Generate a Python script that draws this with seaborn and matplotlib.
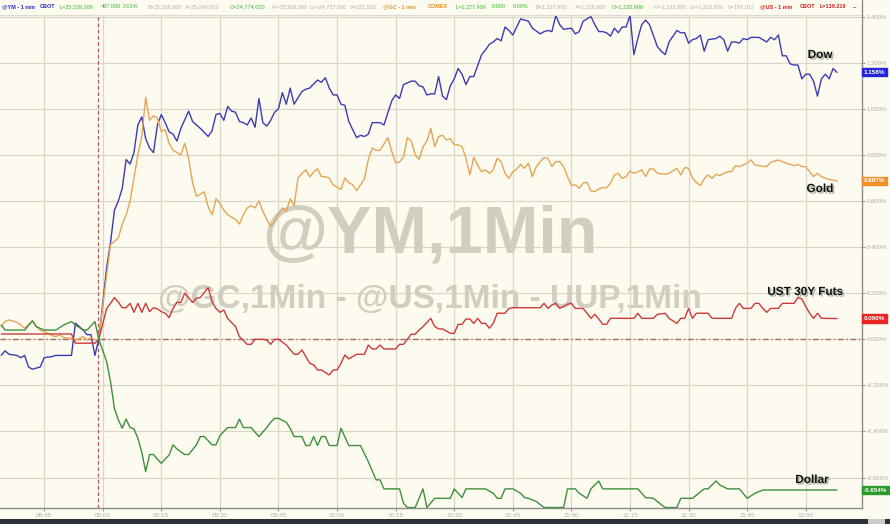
import numpy as np
import pandas as pd
import seaborn as sns
import matplotlib
matplotlib.use("Agg")
import matplotlib.pyplot as plt
import matplotlib.patheffects as pe
from matplotlib.patches import Rectangle
from matplotlib.ticker import FuncFormatter

# minutes relative to 09:00, values in % change since the 08:59 bar
dow_min = [-26, -25, -24, -22, -21, -20, -19, -18, -17, -16, -15, -13, -12, -10, -8, -7, -6, -5, -4, -3, -2, -1,
           1, 2, 3, 4, 5, 6, 7, 8, 9, 10, 11, 12, 13, 14, 15, 16, 17, 18, 19, 20, 22, 23, 25, 27, 28, 29, 30, 31,
           32, 33, 34, 35, 36, 37, 38, 39, 40, 41, 42, 43, 44, 45, 46, 47, 48, 49, 51, 52, 53, 55, 56, 57, 58, 59,
           60, 61, 62, 63, 65, 66, 67, 68, 69, 70, 71, 72, 74, 75, 76, 77, 79, 80, 81, 82, 83, 84, 85, 86, 87,
           88, 89, 90, 91, 92, 93, 94, 95, 97, 98, 99, 100, 101, 102, 103, 104, 105, 106, 107, 108, 109, 110,
           112, 113, 114, 115, 116, 117, 118, 120, 121, 122, 123, 124, 125, 126, 127, 128, 129, 130, 131, 132,
           133, 134, 135, 136, 137, 138, 139, 140, 142, 143, 144, 145, 147, 148, 149, 150, 151, 152, 153, 154,
           155, 157, 158, 159, 160, 161, 162, 163, 164, 165, 166, 168, 169, 170, 171, 172, 173, 174, 175, 176,
           177, 178, 179, 180, 181, 182, 183, 184, 185, 186, 187, 188]
dow_pct = [-0.07, -0.05, -0.065, -0.07, -0.08, -0.07, -0.12, -0.13, -0.125, -0.12, -0.08, -0.075, -0.07, -0.07, -0.07,
           0.07, 0.055, 0.04, 0.02, 0.02, -0.07, 0.0,
           0.31, 0.42, 0.56, 0.60, 0.655, 0.78, 0.76, 0.81, 0.93, 0.965, 0.87, 0.83, 0.81, 0.93, 0.975, 0.94, 0.90,
           0.89, 0.86, 0.915, 0.99, 0.945, 0.915, 0.88, 0.905, 0.975, 0.98, 0.95,
           1.01, 0.99, 0.985, 0.945, 0.94, 0.93, 0.96, 0.92, 1.045, 0.94, 0.925, 0.95, 0.985, 1.0, 1.07, 1.02, 1.09,
           1.02, 1.075, 1.085, 1.09, 1.125, 1.115, 1.135, 1.09, 1.06,
           1.06, 1.02, 1.015, 0.945, 0.875, 0.885, 0.88, 0.89, 0.94, 0.94, 0.94, 0.93, 1.035, 1.06, 1.045, 1.105,
           1.12, 1.12, 1.10, 1.095, 1.06, 1.065, 1.065, 1.14, 1.055,
           1.04, 1.10, 1.13, 1.175, 1.15, 1.105, 1.14, 1.14, 1.235, 1.255, 1.28, 1.29, 1.305, 1.295, 1.355, 1.34,
           1.32, 1.355, 1.39, 1.385, 1.38, 1.35,
           1.325, 1.335, 1.34, 1.335, 1.405, 1.365, 1.345, 1.35, 1.325, 1.335, 1.38, 1.39, 1.40, 1.365, 1.335,
           1.335, 1.33, 1.315, 1.35, 1.33,
           1.355, 1.355, 1.405, 1.235, 1.305, 1.365, 1.385, 1.365, 1.27, 1.25, 1.235, 1.29, 1.34, 1.33, 1.33,
           1.285, 1.30, 1.305, 1.32, 1.25,
           1.30, 1.305, 1.315, 1.30, 1.25, 1.29, 1.29, 1.285, 1.305, 1.30, 1.31, 1.31, 1.30, 1.29, 1.31, 1.30,
           1.32, 1.23, 1.23, 1.195,
           1.19, 1.19, 1.13, 1.15, 1.15, 1.12, 1.055, 1.13, 1.15, 1.13, 1.175, 1.158]

gold_min = [-26, -25, -24, -22, -21, -20, -18, -17, -16, -14, -13, -12, -11, -10, -8, -7, -5, -4, -3, -2, -1,
            1, 2, 3, 4, 5, 6, 7, 8, 9, 10, 11, 12, 13, 14, 15, 16, 17, 18, 19, 20, 21, 22, 23, 24, 26, 27, 28, 29,
            30, 31, 32, 34, 35, 36, 37, 38, 39, 40, 41, 42, 43, 44, 45, 46, 47, 48, 49, 50, 51, 52, 53, 54, 55,
            56, 57, 58, 59, 61, 62, 63, 64, 65, 66, 67, 68, 69, 70, 71, 73, 74, 75, 76, 77, 78, 79, 80, 81, 82,
            83, 84, 85, 86, 87, 88, 89, 90, 91, 92, 93, 94, 95, 96, 97, 98, 99, 100, 101, 102, 103, 104, 105,
            106, 107, 108, 109, 110, 111, 112, 113, 114, 115, 116, 117, 118, 119, 120, 121, 122, 123, 124, 125,
            126, 127, 128, 129, 130, 131, 132, 133, 134, 135, 136, 137, 138, 139, 140, 141, 142, 144, 145, 147,
            148, 149, 150, 151, 152, 153, 154, 155, 156, 157, 158, 159, 160, 161, 162, 163, 165, 166, 167, 168,
            170, 171, 173, 175, 176, 177, 178, 179, 180, 181, 182, 183, 184, 185, 187, 188]
gold_pct = [0.055, 0.077, 0.084, 0.074, 0.062, 0.048, 0.08, 0.055, 0.04, 0.026, 0.016, 0.012, 0.019, 0.007, 0.004,
            -0.005, 0.012, -0.003, 0.007, -0.003, 0.0,
            0.28, 0.41, 0.425, 0.44, 0.50, 0.54, 0.60, 0.70, 0.80, 0.88, 1.05, 0.95, 0.97, 0.96, 0.90, 0.91, 0.85,
            0.82, 0.81, 0.80, 0.85, 0.785, 0.68, 0.62, 0.64, 0.575, 0.54, 0.61,
            0.59, 0.56, 0.54, 0.52, 0.50, 0.54, 0.57, 0.58, 0.57, 0.60, 0.555, 0.52, 0.49, 0.51, 0.545, 0.57, 0.555,
            0.61, 0.58, 0.70, 0.72, 0.735, 0.705, 0.725, 0.74,
            0.705, 0.705, 0.70, 0.67, 0.65, 0.70, 0.68, 0.67, 0.645, 0.67, 0.695, 0.78, 0.83, 0.82, 0.82, 0.875,
            0.815, 0.765, 0.77, 0.79, 0.875, 0.86, 0.80, 0.78, 0.835,
            0.86, 0.915, 0.835, 0.88, 0.885, 0.865, 0.87, 0.845, 0.843, 0.836, 0.785, 0.713, 0.79, 0.755, 0.727,
            0.735, 0.72, 0.735, 0.785, 0.771, 0.72, 0.698, 0.727,
            0.739, 0.759, 0.742, 0.764, 0.706, 0.749, 0.77, 0.788, 0.785, 0.75, 0.771, 0.771, 0.749, 0.706, 0.667,
            0.67, 0.655, 0.677, 0.681, 0.644,
            0.641, 0.652, 0.658, 0.658, 0.677, 0.713, 0.72, 0.698, 0.706, 0.73, 0.72, 0.727, 0.735, 0.706, 0.739,
            0.739, 0.72, 0.716, 0.72, 0.742,
            0.713, 0.745, 0.742, 0.70, 0.681, 0.667, 0.696, 0.713, 0.698, 0.716, 0.71, 0.72, 0.727, 0.727, 0.753,
            0.749, 0.764, 0.778, 0.756, 0.753,
            0.749, 0.768, 0.778, 0.764, 0.759, 0.753, 0.759, 0.749, 0.749, 0.727, 0.706, 0.72, 0.706, 0.698, 0.69,
            0.687]

ust_min = [-26, -8, -7, -2, -1, 1, 2, 3, 4, 5, 6, 7, 8, 9, 10, 11, 12, 13, 14, 15, 16, 17, 18, 19, 20, 21, 22,
           23, 24, 25, 26, 27, 28, 29, 30, 31, 32, 34, 35, 37, 38, 39, 41, 42, 43, 44, 45, 47, 49, 50, 51, 53, 54,
           55, 56, 58, 59, 60, 61, 62, 63, 64, 65, 67, 68, 69, 70, 71, 72, 74, 75, 76, 77, 78, 79, 80, 81, 82, 84,
           85, 86, 87, 89, 90, 91, 92, 93, 94, 95, 96, 97, 98, 99, 100, 101, 103, 104, 105, 112, 113, 114, 115,
           116, 117, 119, 120, 121, 123, 124, 125, 126, 127, 128, 129, 130, 136, 137, 138, 141, 142, 144, 145,
           147, 148, 149, 150, 151, 152, 155, 156, 161, 162, 163, 164, 166, 167, 168, 169, 170, 171, 173, 174,
           177, 178, 179, 180, 181, 182, 183, 184, 188]
ust_pct = [0.023, 0.023, -0.017, -0.017, 0.0, 0.134, 0.156, 0.181, 0.161, 0.137, 0.137, 0.156, 0.117, 0.156, 0.117,
           0.156, 0.12, 0.137, 0.132, 0.12, 0.113, 0.094, 0.134, 0.16, 0.16, 0.20, 0.18,
           0.16, 0.178, 0.181, 0.204, 0.224, 0.163, 0.134, 0.117, 0.127, 0.09, 0.055, 0.012, -0.022, -0.022, 0.0,
           0.0, -0.003, -0.022, 0.0, 0.0, -0.025, -0.065, -0.065, -0.046, -0.104, -0.111,
           -0.133, -0.133, -0.155, -0.133, -0.133, -0.104, -0.068, -0.085, -0.075, -0.065, -0.065, -0.025, -0.042,
           -0.042, -0.025, -0.042, -0.042, -0.042, -0.022, -0.022, 0.0, 0.022, 0.022, 0.04, 0.055, 0.091,
           0.055, 0.045, 0.045, 0.026, 0.026, 0.065, 0.065, 0.088, 0.088, 0.069, 0.091, 0.069, 0.069, 0.048, 0.069,
           0.113, 0.113, 0.134, 0.137, 0.137, 0.156, 0.134, 0.149,
           0.156, 0.134, 0.152, 0.156, 0.134, 0.134, 0.113, 0.091, 0.108, 0.088, 0.065, 0.065, 0.091, 0.091, 0.113,
           0.091, 0.091, 0.108, 0.113, 0.091,
           0.069, 0.091, 0.091, 0.134, 0.091, 0.113, 0.113, 0.091, 0.091, 0.134, 0.156, 0.134, 0.134, 0.156, 0.156,
           0.134, 0.117, 0.134, 0.134, 0.156,
           0.156, 0.181, 0.175, 0.142, 0.113, 0.091, 0.113, 0.091, 0.090]

usd_min = [-26, -25, -20, -18, -17, -15, -12, -10, -8, -7, -5, -4, -2, -1, 1, 2, 3, 4, 5, 6, 7, 8, 9, 10, 11, 12,
           13, 14, 15, 17, 18, 19, 21, 22, 24, 25, 26, 28, 29, 30, 31, 32, 34, 35, 36, 38, 39, 40, 42, 43, 44, 45,
           47, 48, 49, 51, 52, 53, 54, 55, 56, 57, 58, 60, 61, 63, 66, 68, 70, 71, 72, 74, 76, 77, 78, 80, 82, 83,
           85, 88, 89, 90, 91, 92, 93, 98, 100, 101, 102, 103, 105, 107, 108, 109, 111, 113, 118, 119, 121, 122,
           124, 125, 127, 128, 137, 138, 139, 141, 142, 144, 147, 148, 151, 154, 155, 157, 158, 160, 163, 165,
           167, 169, 188]
usd_pct = [0.062, 0.04, 0.04, 0.08, 0.055, 0.04, 0.04, 0.062, 0.077, 0.062, 0.04, 0.04, 0.077, 0.0, -0.097, -0.184,
           -0.30, -0.35, -0.386, -0.346, -0.383, -0.389, -0.429, -0.49, -0.574, -0.50,
           -0.50, -0.52, -0.538, -0.502, -0.458, -0.476, -0.50, -0.50, -0.458, -0.422, -0.422, -0.458, -0.458,
           -0.418, -0.40, -0.383, -0.383, -0.346, -0.383, -0.383, -0.403, -0.422, -0.383, -0.36, -0.343, -0.343,
           -0.36, -0.386, -0.422, -0.422, -0.461, -0.461, -0.422, -0.461, -0.422, -0.422, -0.461, -0.461, -0.386,
           -0.461, -0.461, -0.531, -0.61, -0.61, -0.649, -0.649, -0.649, -0.711, -0.73, -0.73, -0.649, -0.73,
           -0.69, -0.69, -0.69, -0.649, -0.668, -0.687, -0.649, -0.649, -0.668, -0.69, -0.69, -0.649, -0.649,
           -0.668, -0.687, -0.69, -0.704, -0.73, -0.73, -0.649, -0.649, -0.668,
           -0.69, -0.649, -0.615, -0.649, -0.649, -0.668, -0.687, -0.69, -0.704, -0.73, -0.73, -0.69, -0.69,
           -0.649, -0.649, -0.615, -0.632, -0.649, -0.649, -0.69,
           -0.668, -0.654, -0.654]

series_names = ["Dow", "Gold", "UST 30Y Futs", "Dollar"]
series_colors = ["#3b3bb5", "#e3a557", "#cc3a3a", "#3f8f3f"]
badge_colors = ["#2626d8", "#f29028", "#e82424", "#2a9a2a"]
tick_minutes = [-15, 0, 15, 30, 45, 60, 75, 90, 105, 120, 135, 150, 165, 180]
tick_labels = ["08:45", "09:00", "09:15", "09:30", "09:45", "10:00", "10:15",
               "10:30", "10:45", "11:00", "11:15", "11:30", "11:45", "12:00"]

frames = []
for name, mins, vals in zip(series_names, [dow_min, gold_min, ust_min, usd_min],
                            [dow_pct, gold_pct, ust_pct, usd_pct]):
    frames.append(pd.DataFrame({"minute": mins, "pct": vals, "series": name}))
df = pd.concat(frames, ignore_index=True)

sns.set_theme(style="white")
plt.rcParams["font.family"] = ["Liberation Sans", "DejaVu Sans"]

W, H = 890, 524
bg = "#fdfbef"
fig = plt.figure(figsize=(W / 100, H / 100), dpi=100, facecolor=bg)
ax = fig.add_axes([0, 16 / H, 862 / W, 493 / H], facecolor=bg)

sns.lineplot(data=df, x="minute", y="pct", hue="series", palette=dict(zip(series_names, series_colors)),
             estimator=None, linewidth=1.0, legend=False, ax=ax, zorder=4)

ax.set_xlim(-26.3, 194.4)
ax.set_ylim(-0.732, 1.407)
ax.set_xlabel("")
ax.set_ylabel("")

# grid + reference lines
ax.set_axisbelow(True)
ax.grid(True, color="#d9d6ca", linewidth=0.9)
ax.axhline(0, color="#a86a62", linestyle=(0, (4, 2, 1, 2)), linewidth=1.0, zorder=3)
ax.axvline(-1.1, color="#b05a5a", linestyle=(0, (3, 2)), linewidth=0.9, zorder=3)

# axes / ticks
for side in ["left", "top"]:
    ax.spines[side].set_visible(False)
for side in ["right", "bottom"]:
    ax.spines[side].set_color("#8c8c8c")
    ax.spines[side].set_linewidth(1.0)

ax.yaxis.tick_right()
ax.set_yticks(np.round(np.arange(-0.6, 1.41, 0.2), 1))
ax.yaxis.set_major_formatter(FuncFormatter(lambda v, p: f"{v:.3f}%"))
ax.tick_params(axis="y", which="major", right=True, length=2.5, width=0.8, color="#9a9a9a",
               labelsize=4.3, labelcolor="#ababab", pad=0.8)
ax.set_xticks(tick_minutes)
ax.set_xticklabels(tick_labels)
ax.tick_params(axis="x", which="major", bottom=True, length=2, width=0.8, color="#9a9a9a",
               labelsize=4.6, labelcolor="#b0b0b0", pad=1.5)

# watermark
wm_color = "#d0cdc1"
ax.text(0.499, 0.552, "@YM,1Min", transform=ax.transAxes, ha="center", va="center",
        fontsize=48, fontweight="bold", color=wm_color, zorder=1)
ax.text(0.499, 0.422, "@GC,1Min - @US,1Min - UUP,1Min", transform=ax.transAxes, ha="center",
        va="center", fontsize=24, fontweight="bold", color=wm_color, zorder=1)

# last-value badges on the right axis
for vals, col in zip([dow_pct, gold_pct, ust_pct, usd_pct], badge_colors):
    ax.text(1.002, vals[-1], f"{vals[-1]:.3f}%", transform=ax.get_yaxis_transform(), ha="left",
            va="center", fontsize=4.5, fontweight="bold", color="white", clip_on=False, zorder=6,
            bbox=dict(boxstyle="square,pad=0.25", facecolor=col, edgecolor=col))

# series labels with drop shadow
shadow = [pe.SimplePatchShadow(offset=(1.2, -1.2), shadow_rgbFace="#777777", alpha=0.55), pe.Normal()]
label_pos = [(820, 55), (820, 189), (805, 292), (812, 480)]
for name, (px, py) in zip(series_names, label_pos):
    fig.text(px / W, 1 - py / H, name, ha="center", va="center", fontsize=8.5, fontweight="bold",
             color="#111111", path_effects=shadow, zorder=7)

# quote header strip
header = [
    (2, "@YM - 1 min", "#2b2bc4", "bold"), (40, "CBOT", "#2b2bc4", "bold"),
    (60, "L=25,239.000", "#33bb33", "normal"), (101, "497.000", "#33bb33", "normal"),
    (123, "2.01%", "#33bb33", "normal"), (148, "B=25,238.000", "#b0b0b0", "normal"),
    (185, "A=25,240.000", "#b0b0b0", "normal"), (230, "O=24,774.000", "#33bb33", "normal"),
    (272, "Hi=25,309.000", "#b0b0b0", "normal"), (310, "Lo=24,727.000", "#b0b0b0", "normal"),
    (350, "V=221,553", "#b0b0b0", "normal"), (383, "@GC - 1 min", "#e8901e", "bold"),
    (428, "COMEX", "#e8901e", "bold"), (455, "L=1,227.900", "#33bb33", "normal"),
    (492, "0.000", "#33bb33", "normal"), (513, "0.00%", "#33bb33", "normal"),
    (535, "B=1,227.800", "#b0b0b0", "normal"), (575, "A=1,228.000", "#b0b0b0", "normal"),
    (612, "O=1,220.900", "#33bb33", "normal"), (653, "Hi=1,233.800", "#b0b0b0", "normal"),
    (690, "Lo=1,216.800", "#b0b0b0", "normal"), (728, "V=187,017", "#b0b0b0", "normal"),
    (760, "@US - 1 min", "#cc2222", "bold"), (800, "CBOT", "#cc2222", "bold"),
    (820, "L=139.219", "#cc2222", "bold"), (853, "...", "#cc2222", "bold"),
]
for px, txt, col, wt in header:
    fig.text(px / W, 1 - 7 / H, txt, ha="left", va="center", fontsize=4.0, color=col, fontweight=wt)
fig.add_artist(plt.Line2D([0, 862 / W], [1 - 15 / H, 1 - 15 / H], color="#dcdad0", linewidth=0.8))
fig.add_artist(plt.Line2D([862 / W, 862 / W], [1 - 15 / H, 1], color="#8c8c8c", linewidth=1.0))

# scrollbar at the very bottom
fig.patches.append(Rectangle((0, 0), 1, 5.5 / H, transform=fig.transFigure, facecolor="#2c3037",
                             edgecolor="none", zorder=0))
fig.patches.append(Rectangle((868 / W, 0), 17 / W, 5.5 / H, transform=fig.transFigure,
                             facecolor="#c9cbcf", edgecolor="none", zorder=1))

fig.savefig("out.png", dpi=100, facecolor=bg)
